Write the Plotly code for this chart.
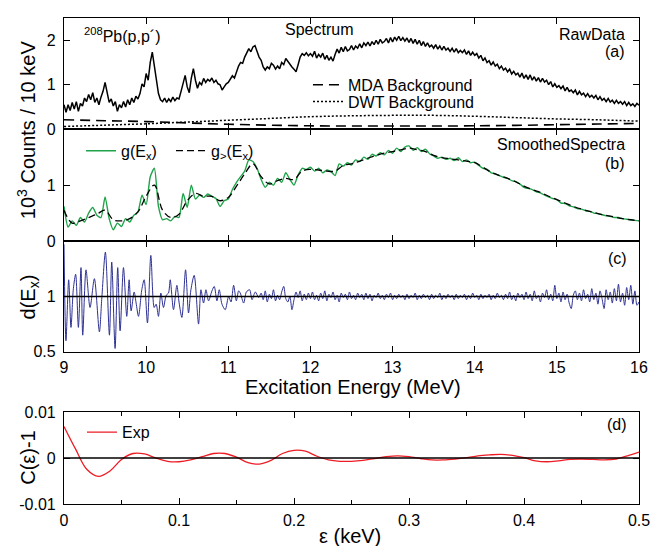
import numpy as np
import plotly.graph_objects as go

# ---------------- data ----------------
raw_start, raw_step = 9.0, 0.025
raw_counts = [
    0.55,0.38,0.55,0.42,0.60,0.45,0.62,0.40,0.58,0.52,
    0.70,0.62,0.78,0.66,0.82,0.60,0.70,0.55,0.72,0.85,
    1.05,0.82,0.60,0.68,0.52,0.62,0.40,0.55,0.48,0.62,
    0.50,0.66,0.55,0.70,0.60,0.74,0.68,0.80,1.02,0.95,
    1.25,1.10,1.50,1.73,1.40,1.05,0.80,0.66,0.62,0.70,
    0.60,0.68,0.62,0.72,0.64,0.70,0.68,0.85,1.05,1.21,
    0.95,0.82,1.15,1.36,1.10,0.92,1.05,1.00,1.14,1.05,
    1.12,1.08,1.15,1.05,1.10,1.02,1.00,0.88,0.95,1.02,
    1.05,1.12,1.20,1.15,1.30,1.42,1.50,1.48,1.62,1.70,
    1.81,1.74,1.85,1.88,1.75,1.62,1.55,1.40,1.33,1.40,
    1.36,1.48,1.44,1.35,1.42,1.36,1.50,1.45,1.59,1.52,
    1.47,1.40,1.35,1.29,1.45,1.62,1.70,1.66,1.72,1.65,
    1.70,1.64,1.75,1.60,1.68,1.62,1.71,1.57,1.66,1.55,
    1.62,1.53,1.68,1.80,1.71,1.84,1.74,1.86,1.76,1.79,
    1.88,1.78,1.87,1.82,1.92,1.83,1.94,1.88,1.96,1.87,
    1.97,1.90,2.00,1.91,2.02,1.94,1.97,2.04,1.94,2.06,
    1.96,2.07,2.00,2.09,1.99,2.06,1.98,2.05,1.95,2.04,
    1.93,2.02,1.91,2.00,1.88,1.97,1.86,1.94,1.85,1.89,
    1.82,1.90,1.80,1.87,1.78,1.86,1.78,1.82,1.75,1.82,
    1.73,1.81,1.72,1.77,1.72,1.78,1.68,1.76,1.66,1.73,
    1.66,1.70,1.60,1.66,1.54,1.60,1.50,1.54,1.44,1.51,
    1.42,1.46,1.36,1.42,1.33,1.37,1.29,1.35,1.24,1.30,
    1.22,1.26,1.17,1.26,1.14,1.22,1.12,1.22,1.10,1.18,
    1.08,1.16,1.06,1.14,1.06,1.10,1.00,1.07,0.95,1.02,
    0.94,0.98,0.91,0.97,0.86,0.94,0.85,0.88,0.82,0.88,
    0.77,0.85,0.77,0.81,0.73,0.80,0.72,0.76,0.70,0.76,
    0.66,0.73,0.65,0.69,0.62,0.69,0.61,0.65,0.58,0.65,
    0.58,0.62,0.56,0.62,0.53,0.60,0.53,0.57,0.51,0.58,0.54,
]

bg_energy = [9.0, 9.5, 10.0, 10.5, 11.0, 11.5, 12.0, 12.5, 13.0, 13.5, 14.0, 14.5, 15.0, 15.5, 16.0]
mda_bg = [0.21, 0.19, 0.17, 0.14, 0.11, 0.09, 0.075, 0.07, 0.07, 0.07, 0.075, 0.085, 0.10, 0.115, 0.13]
dwt_bg = [0.06, 0.09, 0.12, 0.16, 0.20, 0.24, 0.28, 0.30, 0.31, 0.31, 0.29, 0.26, 0.23, 0.21, 0.18]

g_start, g_step = 9.0, 0.05
g_counts = [
    0.62,0.25,0.36,0.28,0.42,0.34,0.50,0.60,0.46,0.42,
    0.79,0.40,0.20,0.32,0.26,0.40,0.34,0.46,0.52,0.82,
    0.65,1.15,1.30,0.62,0.38,0.40,0.36,0.44,0.42,0.85,
    0.60,1.00,0.75,0.82,0.78,0.84,0.80,0.76,0.62,0.72,
    0.75,0.92,1.05,1.15,1.25,1.45,1.42,1.30,1.10,0.96,
    1.05,1.00,1.12,1.05,1.22,1.10,1.00,1.18,1.30,1.28,
    1.32,1.25,1.30,1.22,1.27,1.24,1.17,1.38,1.34,1.40,
    1.36,1.45,1.42,1.50,1.46,1.55,1.52,1.58,1.54,1.62,
    1.57,1.66,1.60,1.68,1.70,1.62,1.67,1.60,1.64,1.56,
    1.52,1.48,1.50,1.46,1.48,1.44,1.49,1.42,1.45,1.40,
    1.41,1.35,1.30,1.28,1.22,1.20,1.17,1.14,1.12,1.08,
    1.06,1.02,0.96,0.94,0.92,0.88,0.86,0.82,0.79,0.76,
    0.74,0.68,0.67,0.63,0.61,0.58,0.57,0.54,0.53,0.50,
    0.49,0.47,0.45,0.44,0.42,0.42,0.40,0.39,0.38,0.37,
    0.36,
]

gs_start, gs_step = 9.0, 0.1
g_smooth = [
    0.55,0.32,0.36,0.42,0.48,0.55,0.38,0.36,0.40,0.52,
    0.80,1.00,0.55,0.42,0.48,0.72,0.85,0.80,0.80,0.72,
    0.78,0.98,1.20,1.38,1.15,1.02,1.08,1.12,1.10,1.25,
    1.28,1.27,1.25,1.25,1.35,1.38,1.43,1.48,1.53,1.57,
    1.60,1.63,1.66,1.63,1.60,1.53,1.49,1.47,1.45,1.43,
    1.40,1.32,1.23,1.17,1.12,1.06,0.98,0.92,0.87,0.80,
    0.74,0.68,0.62,0.57,0.53,0.49,0.46,0.43,0.40,0.38,
    0.36,
]

d_energy_low = [
    9.000,9.024,9.057,9.085,9.114,9.142,9.175,9.207,9.228,9.268,
    9.317,9.370,9.431,9.459,9.504,9.553,9.581,9.622,9.654,9.683,
    9.724,9.764,9.793,9.817,9.854,9.878,9.907,9.947,9.976,10.016,
    10.057,10.098,10.122,10.150,10.179,10.211,10.244,10.272,10.293,10.333,
    10.374,10.402,10.435,10.480,10.516,10.545,10.585,10.638,10.667,10.699,
    10.728,10.760,10.801,10.829,10.862,10.890,10.923,10.963,11.004,11.033,
    11.065,11.098,11.126,11.146,11.187,11.220,11.260,11.289,11.329,11.370,
]
d_low = [
    1.47,0.60,1.15,0.72,1.07,1.20,0.72,1.26,0.65,1.24,
    0.90,1.16,0.68,0.97,1.40,0.65,1.31,0.53,1.26,0.69,
    1.26,0.82,1.15,0.87,1.04,0.94,0.82,1.06,1.15,0.76,
    1.37,0.90,0.93,0.82,1.03,0.90,1.01,1.03,1.15,0.88,
    1.10,0.94,0.81,1.24,0.85,1.06,1.19,0.75,1.06,0.94,
    1.06,0.96,1.05,1.09,0.96,1.06,0.93,0.88,1.00,0.95,
    1.10,0.96,1.05,1.03,0.94,1.04,1.06,0.97,1.04,0.99,
]
d_high_start, d_high_step = 11.40, 0.025
d_high = [
    1.03,0.97,1.05,0.95,1.02,0.98,1.06,0.96,1.01,0.97,
    1.04,1.09,0.98,0.95,1.00,0.88,0.97,1.04,0.99,1.05,
    0.96,1.02,0.97,1.03,0.98,1.04,0.97,1.01,0.96,1.03,
    0.98,1.05,0.96,1.02,0.99,1.04,0.97,1.01,0.95,1.03,
    0.99,1.02,0.97,1.04,0.98,1.01,0.97,1.03,0.99,1.02,
    0.97,1.03,0.98,1.02,0.96,1.01,0.99,1.03,0.98,1.01,
    0.97,1.02,0.99,1.03,0.97,1.01,0.98,1.02,0.99,1.01,
    0.97,1.02,0.98,1.01,0.99,1.03,0.97,1.01,0.98,1.02,
    0.99,1.01,0.97,1.02,0.98,1.01,0.99,1.03,0.97,1.01,
    0.98,1.02,0.99,1.01,0.97,1.02,0.98,1.01,0.99,1.02,
    0.97,1.01,0.98,1.03,0.99,1.01,0.97,1.02,0.98,1.01,
    0.99,1.02,0.97,1.01,0.98,1.03,0.99,1.01,0.97,1.02,
    0.98,1.04,0.97,1.01,0.96,1.03,0.99,1.02,0.97,1.04,
    0.98,1.02,0.96,1.05,0.98,1.01,0.95,1.03,0.99,1.06,
    0.97,1.02,0.96,1.10,0.98,1.03,0.95,1.04,0.97,1.02,
    0.94,0.89,1.01,1.05,0.97,1.03,0.96,1.06,0.98,1.02,
    0.95,1.07,0.97,1.03,0.93,1.05,0.98,0.89,1.06,0.97,
    1.04,0.94,1.07,0.96,1.11,0.95,1.03,0.92,1.08,0.97,
    1.10,0.93,1.05,0.92,0.95,
]

eps_kev = [round(0.01 * i, 2) for i in range(51)]
c_minus_1 = [
    0.0069, 0.0020, -0.0025, -0.0040, -0.0028, -0.0003, 0.0010, 0.0009, 0.0000, -0.0007,
    -0.0008, -0.0004, 0.0003, 0.0010, 0.0010, 0.0002, -0.0010, -0.0013, -0.0005, 0.0010,
    0.0017, 0.0015, 0.0004, -0.0004, -0.0007, -0.0007, -0.0005, -0.0001, 0.0003, 0.0005,
    0.0003, -0.0001, -0.0004, -0.0004, -0.0002, 0.0001, 0.0005, 0.0007, 0.0008, 0.0006,
    0.0001, -0.0006, -0.0008, -0.0006, -0.0003, -0.0002, -0.0003, -0.0004, -0.0002, 0.0005,
    0.0013,
]

energy_ticks = [9, 10, 11, 12, 13, 14, 15, 16]
eps_ticks = [0, 0.1, 0.2, 0.3, 0.4, 0.5]
eps_ticktext = ["0", "0.1", "0.2", "0.3", "0.4", "0.5"]

# ---------------- derived x grids ----------------
raw_e = np.round(raw_start + raw_step * np.arange(len(raw_counts)), 4)
g_e = np.round(g_start + g_step * np.arange(len(g_counts)), 4)
gs_e = np.round(gs_start + gs_step * np.arange(len(g_smooth)), 4)
d_e = list(d_energy_low) + list(np.round(d_high_start + d_high_step * np.arange(len(d_high)), 4))
d_vals = list(d_low) + list(d_high)

GREEN = "#1fa34a"
BLUE = "#2e3192"
RED = "#ed1c24"

fig = go.Figure()
fig.add_trace(go.Scatter(x=raw_e, y=raw_counts, xaxis="x", yaxis="y", mode="lines",
                         line=dict(color="black", width=1.5), showlegend=False))
fig.add_trace(go.Scatter(x=bg_energy, y=mda_bg, xaxis="x", yaxis="y", mode="lines",
                         line=dict(color="black", width=1.6, dash="10px,6px", shape="spline"),
                         name="MDA Background", legend="legend"))
fig.add_trace(go.Scatter(x=bg_energy, y=dwt_bg, xaxis="x", yaxis="y", mode="lines",
                         line=dict(color="black", width=1.5, dash="2px,2px", shape="spline"),
                         name="DWT Background", legend="legend2"))
fig.add_trace(go.Scatter(x=g_e, y=g_counts, xaxis="x2", yaxis="y2", mode="lines",
                         line=dict(color=GREEN, width=1.4, shape="spline", smoothing=0.6),
                         name="g(E<sub>x</sub>)", legend="legend3"))
fig.add_trace(go.Scatter(x=gs_e, y=g_smooth, xaxis="x2", yaxis="y2", mode="lines",
                         line=dict(color="black", width=1.3, dash="7px,4px", shape="spline"),
                         name="g<sub>></sub>(E<sub>x</sub>)", legend="legend4"))
fig.add_trace(go.Scatter(x=d_e, y=d_vals, xaxis="x3", yaxis="y3", mode="lines",
                         line=dict(color=BLUE, width=1.0, shape="spline", smoothing=0.8),
                         showlegend=False))
fig.add_trace(go.Scatter(x=eps_kev, y=c_minus_1, xaxis="x4", yaxis="y4", mode="lines",
                         line=dict(color=RED, width=1.3, shape="spline"),
                         name="Exp", legend="legend5"))

ax = dict(showline=True, linecolor="black", linewidth=1.2, mirror="ticks", ticks="inside",
          ticklen=6, tickwidth=1.2, tickcolor="black", showgrid=False, zeroline=False,
          tickfont=dict(size=16, color="black"))

dom_a = [0.7713, 1.0]
dom_b = [0.5411, 0.7713]
dom_c = [0.3132, 0.5411]
dom_d = [0.0, 0.1889]

fig.update_layout(
    width=660, height=546,
    margin=dict(l=64, r=21, t=10, b=42),
    paper_bgcolor="white", plot_bgcolor="white",
    font=dict(family="Liberation Sans, Arial, sans-serif", size=16, color="black"),
    xaxis=dict(domain=[0, 1], anchor="y", range=[9, 16], tickvals=energy_ticks, showticklabels=False, **ax),
    yaxis=dict(domain=dom_a, anchor="x", range=[0, 2.5], tickvals=[0, 1, 2], ticklabelstandoff=4, **ax),
    xaxis2=dict(domain=[0, 1], anchor="y2", range=[9, 16], tickvals=energy_ticks, showticklabels=False, **ax),
    yaxis2=dict(domain=dom_b, anchor="x2", range=[0, 2.0], tickvals=[0, 1], ticklabelstandoff=4, **ax),
    xaxis3=dict(domain=[0, 1], anchor="y3", range=[9, 16], tickvals=energy_ticks, ticklabelstandoff=1, **ax),
    yaxis3=dict(domain=dom_c, anchor="x3", range=[0.5, 1.5], tickvals=[0.5, 1], ticktext=["0.5", "1"],
                ticklabelstandoff=4, **ax),
    xaxis4=dict(domain=[0, 1], anchor="y4", range=[0, 0.5], tickvals=eps_ticks, ticktext=eps_ticktext,
                minor=dict(dtick=0.05, ticks="inside", ticklen=4, tickcolor="black"),
                ticklabelstandoff=2, **ax),
    yaxis4=dict(domain=dom_d, anchor="x4", range=[-0.01, 0.01], tickvals=[-0.01, 0, 0.01],
                ticktext=["-0.01", "0", "0.01"], ticklabelstandoff=4, **ax),
)

leg = dict(xanchor="left", yanchor="middle", bgcolor="rgba(0,0,0,0)", borderwidth=0,
           font=dict(size=16, color="black"))
fig.update_layout(
    legend=dict(x=0.4243, y=0.8623, **leg),
    legend2=dict(x=0.4243, y=0.8279, **leg),
    legend3=dict(x=0.0296, y=0.7267, **leg),
    legend4=dict(x=0.1861, y=0.7267, **leg),
    legend5=dict(x=0.0313, y=0.1478, **leg),
)

fig.add_shape(type="line", xref="x3 domain", x0=0, x1=1, yref="y3", y0=1, y1=1,
              line=dict(color="black", width=1.5))
fig.add_shape(type="line", xref="x4 domain", x0=0, x1=1, yref="y4", y0=0, y1=0,
              line=dict(color="black", width=1.5))

def ann(text, x, y, xanchor="center", size=16, angle=0):
    fig.add_annotation(text=text, xref="paper", yref="paper", x=x, y=y, xanchor=xanchor,
                       yanchor="middle", showarrow=False, textangle=angle,
                       font=dict(size=size, color="black"))

ann("<sup>208</sup>Pb(p,p´)", 0.031, 0.9656, xanchor="left")
ann("Spectrum", 0.4435, 0.9757)
ann("RawData", 0.979, 0.9656, xanchor="right")
ann("(a)", 0.979, 0.9312, xanchor="right")
ann("SmoothedSpectra", 0.979, 0.7389, xanchor="right")
ann("(b)", 0.979, 0.7004, xanchor="right")
ann("(c)", 0.982, 0.5061, xanchor="right")
ann("(d)", 0.982, 0.164, xanchor="right")
ann("10<sup>3</sup> Counts / 10 keV", -0.0661, 0.7713, size=20, angle=-90)
ann("d(E<sub>x</sub>)", -0.0609, 0.4271, size=20, angle=-90)
ann("C(ε)-1", -0.0626, 0.0951, size=20, angle=-90)
ann("Excitation Energy (MeV)", 0.5026, 0.241, size=20)
ann("ε (keV)", 0.497, -0.0668, size=20)

fig.write_html("out.html", config={"displayModeBar": False},
               post_script="document.body.style.margin='0';document.body.style.padding='0';")
